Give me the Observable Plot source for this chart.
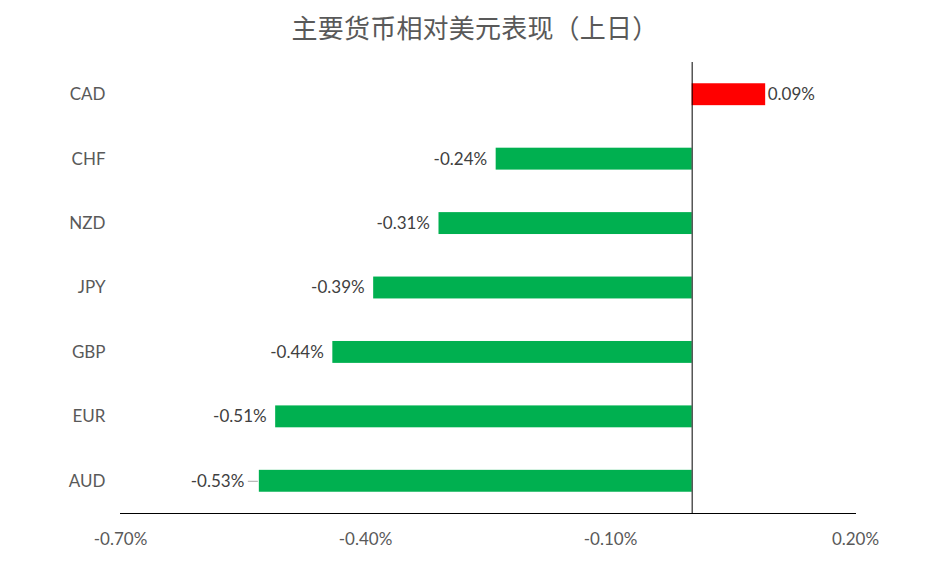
<!DOCTYPE html>
<html>
<head>
<meta charset="utf-8">
<script src="https://cdn.jsdelivr.net/npm/d3@7"></script>
<script src="https://cdn.jsdelivr.net/npm/@observablehq/plot@0.6"></script>
<style>
  body { margin: 0; background: #fff; width: 950px; }
  #title { height: 52px; line-height: 54px; text-align: center; font-family: "Noto Sans CJK SC", sans-serif; font-size: 26px; color: #595959; letter-spacing: 0.2px; }
  #chart svg { display: block; }
</style>
</head>
<body>
<div id="title">主要货币相对美元表现（上日）</div>
<div id="chart"></div>
<script>
const currencies = ["CAD", "CHF", "NZD", "JPY", "GBP", "EUR", "AUD"];
const changes = [0.0009, -0.0024, -0.0031, -0.0039, -0.0044, -0.0051, -0.0053];
const xTicks = [-0.007, -0.004, -0.001, 0.002];
const xTickLabels = ["-0.70%", "-0.40%", "-0.10%", "0.20%"];

const data = currencies.map((c, i) => ({ c, v: changes[i] }));
const fmt = v => (v * 100).toFixed(2) + "%";

const W = 950, H = 524, ML = 120, MR = 95;
const domain = [-0.007, 0.002];
const pxPerUnit = (W - ML - MR) / (domain[1] - domain[0]);
const minV = d3.min(changes);

const font = "Lato, 'Open Sans', sans-serif";
const pos = data.filter(d => d.v >= 0);
const neg = data.filter(d => d.v < 0 && d.v !== minV);
const minRow = data.filter(d => d.v === minV);

const plot = Plot.plot({
  width: W,
  height: H,
  marginLeft: ML,
  marginRight: MR,
  marginTop: 10,
  marginBottom: 63,
  style: { fontFamily: font, fontSize: "17px", color: "#595959", background: "#fff" },
  x: { domain },
  y: { domain: currencies, paddingInner: 0.66, paddingOuter: 0.33, round: false },
  marks: [
    Plot.barX(data, { y: "c", x: "v", fill: d => d.v >= 0 ? "#FF0000" : "#00B050" }),
    Plot.ruleX([0], { stroke: "#000", strokeWidth: 1 }),
    Plot.frame({ anchor: "bottom", stroke: "#000", strokeWidth: 1 }),
    Plot.axisX({ ticks: xTicks, tickSize: 0, tickPadding: 19, tickFormat: d => xTickLabels[xTicks.indexOf(d)], label: null, fill: "#595959", fontSize: 17 }),
    Plot.axisY({ tickSize: 0, tickPadding: 15, label: null, fill: "#595959", fontSize: 17 }),
    // leader line for the displaced label
    Plot.ruleY(minRow, {
      y: "c",
      x1: d => d.v - 11 / pxPerUnit,
      x2: d => d.v - 1 / pxPerUnit,
      stroke: "#A6A6A6",
      strokeWidth: 1
    }),
    Plot.text(pos, { y: "c", x: "v", text: d => fmt(d.v), textAnchor: "start", dx: 2, fill: "#404040", fontSize: 17 }),
    Plot.text(neg, { y: "c", x: "v", text: d => fmt(d.v), textAnchor: "end", dx: -9, fill: "#404040", fontSize: 17 }),
    Plot.text(minRow, { y: "c", x: "v", text: d => fmt(d.v), textAnchor: "end", dx: -15, fill: "#404040", fontSize: 17 })
  ]
});
document.getElementById("chart").appendChild(plot);
</script>
</body>
</html>
